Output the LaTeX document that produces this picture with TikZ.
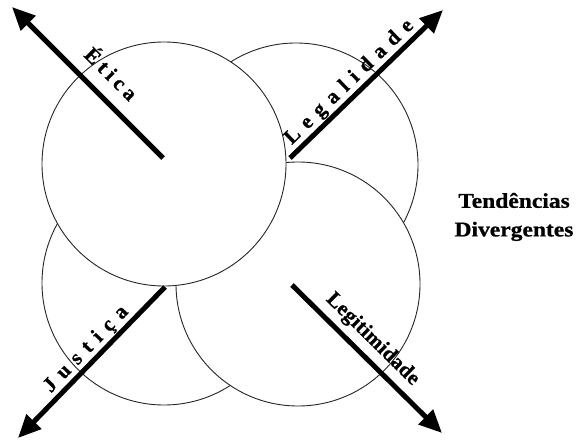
\documentclass[tikz,border=0pt]{standalone}
\usepackage{fontspec}
\usepackage{graphicx}
\setmainfont{Liberation Serif}
\usetikzlibrary{arrows.meta}
\newlength\lgap
\newcommand\lk{\kern\lgap}
\tikzset{
  ring/.style={circle, draw=black!85, line width=0.9pt, fill=white, minimum size=244pt, inner sep=0pt},
  bigarrow/.style={line width=5pt, -{Triangle[length=23pt,width=20pt]}},
  axislabel/.style={inner sep=0pt, anchor=base, font=\bfseries\fontsize{21}{23}\selectfont\addfontfeature{FakeBold=0.8}},
  legend/.style={inner sep=0pt, align=center, xscale=1.12, transform shape, font=\bfseries\fontsize{21}{28.6}\selectfont\addfontfeature{FakeBold=0.8}}
}
\begin{document}
\begin{tikzpicture}[x=1pt,y=-1pt]
\useasboundingbox (0,0) rectangle (576,441);
% circles (bottom to top)
\node[ring] (cTR) at (296,165) {};
\node[ring] (cBL) at (164,283) {};
\node[ring] (cBR) at (298,284) {};
\node[ring] (cTL) at (164,164) {};
% arrow ends
\coordinate (eT) at (163,158);
\coordinate (eH) at (12,7);
\coordinate (lT) at (290,158);
\coordinate (lH) at (443,10);
\coordinate (jT) at (165,287);
\coordinate (jH) at (18,438);
\coordinate (gT) at (292,285);
\coordinate (gH) at (442,433);
\draw[bigarrow] (eT) -- (eH);
\draw[bigarrow] (lT) -- (lH);
\draw[bigarrow] (jT) -- (jH);
\draw[bigarrow] (gT) -- (gH);
% labels
\node[axislabel, rotate=-45] (tEtica) at (106,79) {\setlength\lgap{4.6pt}É\lk t\lk i\lk c\lk a};
\node[axislabel, rotate=44] (tLegal) at (353,86) {\setlength\lgap{7.9pt}L\lk e\lk g\lk a\lk l\lk i\lk d\lk a\lk d\lk e};
\node[axislabel, rotate=46] (tJust) at (90,353) {\setlength\lgap{8.2pt}J\lk u\lk s\lk t\lk i\lk ç\lk a};
\node[axislabel, rotate=-44.6] (tLegit) at (369,343) {\setlength\lgap{0.3pt}L\lk e\lk g\lk i\lk t\lk i\lk m\lk i\lk d\lk a\lk d\lk e};
\node[legend] (tTend) at (514,217) {Tendências\\Divergentes};
\end{tikzpicture}
\end{document}
